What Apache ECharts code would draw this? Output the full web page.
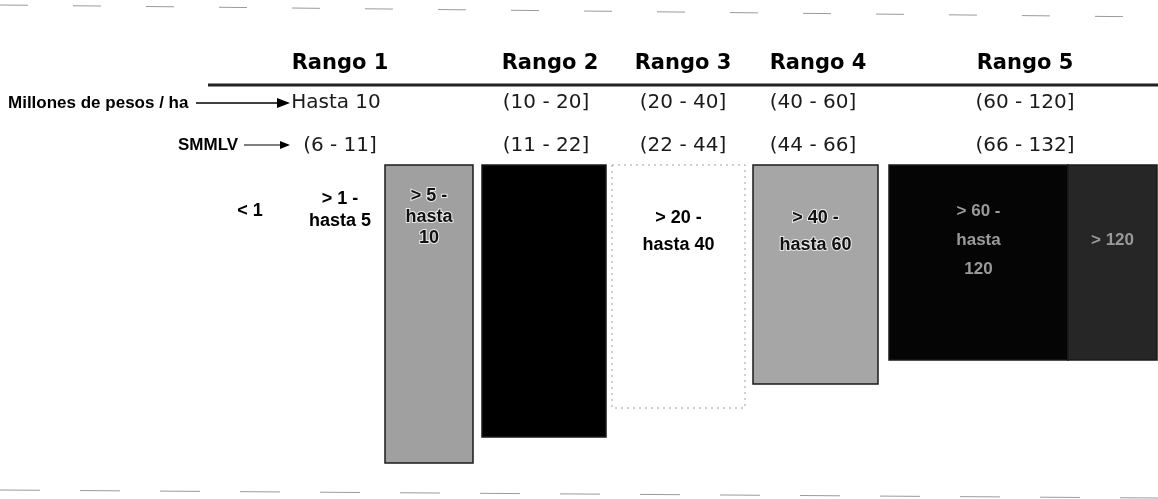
<!DOCTYPE html>
<html>
<head>
<meta charset="utf-8">
<script src="https://cdn.jsdelivr.net/npm/echarts@6/dist/echarts.min.js"></script>
<style>
html,body{margin:0;padding:0;background:#fff;}
#chart{width:1158px;height:499px;}
</style>
</head>
<body>
<div id="chart"></div>
<script>
// ---- data ----
// Rango headers (x = column centre on the diagram axis)
const rangoLabels = ['Rango 1', 'Rango 2', 'Rango 3', 'Rango 4', 'Rango 5'];
const rangoCenters = [340, 550, 683, 818, 1025];
const pesosLabels = ['Hasta 10', '(10 - 20]', '(20 - 40]', '(40 - 60]', '(60 - 120]'];
const pesosCenters = [336, 546, 683, 813, 1025];
const smmlvLabels = ['(6 - 11]', '(11 - 22]', '(22 - 44]', '(44 - 66]', '(66 - 132]'];
const rowNames = ['Millones de pesos / ha', 'SMMLV'];

// Interval blocks
const blockLabels = ['< 1', '> 1 -\nhasta 5', '> 5 -\nhasta\n10', '> 10 -\nhasta 20', '> 20 -\nhasta 40', '> 40 -\nhasta 60', '> 60 -\nhasta\n120', '> 120'];
const blockStart = [230, 300, 385, 482, 612, 753, 889, 1068];
const blockEnd   = [270, 380, 473, 606, 745, 878, 1068, 1157];
const blockDepth = [0, 0, 298, 272, 243, 219, 195, 195];
const blockFill  = ['none', 'none', '#a0a0a0', '#000000', '#ffffff', '#a6a6a6', '#050505', '#262626'];
const blockText  = ['#000', '#000', '#111', '#000', '#000', '#111', '#9a9a9a', '#9a9a9a'];
const blockLabelY = [46, 45, 52, 45, 67, 67, 75, 75];
const blockLineH  = [22, 22, 21, 26, 27, 27, 29, 22];

const chart = echarts.init(document.getElementById('chart'));

const blockData = blockLabels.map((l, i) => [blockStart[i], blockEnd[i], blockDepth[i], i]);

const option = {
  animation: false,
  grid: {left: 0, right: 0, top: 0, bottom: 0},
  xAxis: {type: 'value', min: 0, max: 1158, show: false},
  yAxis: {type: 'value', min: -165, max: 334, inverse: true, show: false},
  series: [
    {
      type: 'custom',
      data: blockData,
      renderItem: function (params, api) {
        const i = api.value(3);
        const p0 = api.coord([api.value(0), 0]);
        const p1 = api.coord([api.value(1), api.value(2)]);
        const children = [];
        const fill = blockFill[i];
        if (fill !== 'none') {
          const isWhite = fill === '#ffffff';
          children.push({
            type: 'rect',
            shape: {x: p0[0], y: p0[1], width: p1[0] - p0[0], height: p1[1] - p0[1]},
            style: isWhite
              ? {fill: '#fff', stroke: '#a0a0a0', lineWidth: 1, lineDash: [2, 4]}
              : {fill: fill, stroke: '#1a1a1a', lineWidth: 1.5}
          });
        }
        const cx = (p0[0] + p1[0]) / 2;
        const ly = api.coord([0, blockLabelY[i]])[1];
        const halo = (i === 2 || i === 5);
        children.push({
          type: 'text',
          style: {
            text: blockLabels[i], x: cx, y: ly,
            align: 'center', verticalAlign: 'middle',
            fontFamily: 'Liberation Sans', fontWeight: 'bold', fontSize: i >= 6 ? 17 : 18, lineHeight: blockLineH[i],
            fill: blockText[i],
            stroke: halo ? 'rgba(255,255,255,0.75)' : null,
            lineWidth: halo ? 2 : 0
          }
        });
        return {type: 'group', children: children};
      }
    },
    {
      type: 'custom',
      data: rangoLabels.map((l, i) => [rangoCenters[i], pesosCenters[i], i]),
      renderItem: function (params, api) {
        const i = api.value(2);
        const pR = api.coord([api.value(0), -101]);
        const pP = api.coord([api.value(1), -62]);
        const pS = api.coord([api.value(1) + (i === 0 ? 4 : 0), -19]);
        return {
          type: 'group',
          children: [
            {type: 'text', style: {text: rangoLabels[i], x: pR[0], y: pR[1], align: 'center', verticalAlign: 'middle',
              fontFamily: 'DejaVu Sans', fontWeight: 'bold', fontSize: 21, fill: '#000'}},
            {type: 'text', style: {text: pesosLabels[i], x: pP[0], y: pP[1], align: 'center', verticalAlign: 'middle',
              fontFamily: 'DejaVu Sans', fontSize: 20, fill: '#1a1a1a'}},
            {type: 'text', style: {text: smmlvLabels[i], x: pS[0], y: pS[1], align: 'center', verticalAlign: 'middle',
              fontFamily: 'DejaVu Sans', fontSize: 20, fill: '#1a1a1a'}}
          ]
        };
      }
    },
    {
      // header rule, row captions with arrows, scan edge lines
      type: 'custom',
      data: [[0]],
      renderItem: function (params, api) {
        const l0 = api.coord([208, -80]);
        const l1 = api.coord([1158, -80]);
        const m = api.coord([8, -62]);
        const a0 = api.coord([196, -62]);
        const a1 = api.coord([290, -62]);
        const s = api.coord([178, -20]);
        const b0 = api.coord([244, -20]);
        const b1 = api.coord([290, -20]);
        const t0 = api.coord([0, -160]);
        const t1 = api.coord([1158, -148]);
        const u0 = api.coord([0, 325]);
        const u1 = api.coord([1158, 333]);
        return {
          type: 'group',
          children: [
            {type: 'line', shape: {x1: t0[0], y1: t0[1], x2: t1[0], y2: t1[1]}, style: {stroke: '#9a9a9a', lineWidth: 1, lineDash: [28, 45]}},
            {type: 'line', shape: {x1: u0[0], y1: u0[1], x2: u1[0], y2: u1[1]}, style: {stroke: '#9a9a9a', lineWidth: 1, lineDash: [40, 40]}},
            {type: 'line', shape: {x1: l0[0], y1: l0[1], x2: l1[0], y2: l1[1]}, style: {stroke: '#222', lineWidth: 3}},
            {type: 'text', style: {text: rowNames[0], x: m[0], y: m[1], align: 'left', verticalAlign: 'middle',
              fontFamily: 'Liberation Sans', fontWeight: 'bold', fontSize: 17, fill: '#000'}},
            {type: 'line', shape: {x1: a0[0], y1: a0[1], x2: a1[0] - 10, y2: a1[1]}, style: {stroke: '#000', lineWidth: 1.5}},
            {type: 'polygon', shape: {points: [[a1[0] - 13, a1[1] - 5], [a1[0], a1[1]], [a1[0] - 13, a1[1] + 5]]}, style: {fill: '#000'}},
            {type: 'text', style: {text: rowNames[1], x: s[0], y: s[1], align: 'left', verticalAlign: 'middle',
              fontFamily: 'Liberation Sans', fontWeight: 'bold', fontSize: 17, fill: '#000'}},
            {type: 'line', shape: {x1: b0[0], y1: b0[1], x2: b1[0] - 8, y2: b1[1]}, style: {stroke: '#000', lineWidth: 1.2}},
            {type: 'polygon', shape: {points: [[b1[0] - 10, b1[1] - 4], [b1[0], b1[1]], [b1[0] - 10, b1[1] + 4]]}, style: {fill: '#000'}}
          ]
        };
      }
    }
  ]
};
chart.setOption(option);
</script>
</body>
</html>
